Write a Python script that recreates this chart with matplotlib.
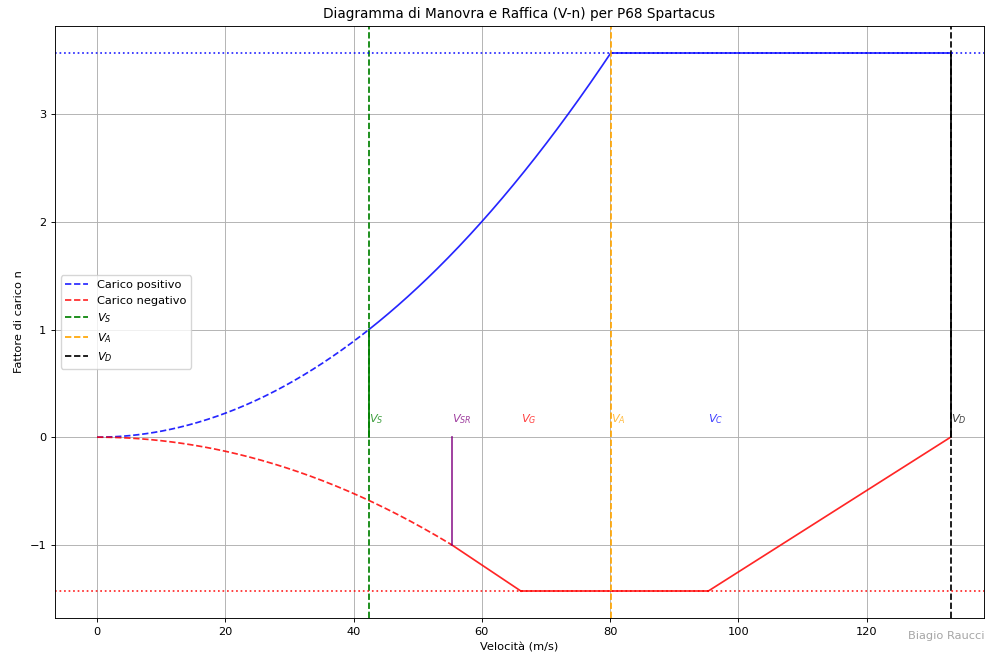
import numpy as np
from matplotlib import pyplot as plt

# velocita caratteristiche (m/s) e fattori di carico
VS = 42.4
VSR = 55.3
VG = 66.1
VA = 80.1
VC = 95.3
VD = 133.1
n_max = 3.57
n_min = -1.43

v_labels = ['$V_S$', '$V_{SR}$', '$V_G$', '$V_A$', '$V_C$', '$V_D$']
v_values = [VS, VSR, VG, VA, VC, VD]
v_colors = ['green', 'purple', 'red', 'orange', 'blue', 'black']

# curve
v1 = np.linspace(0, VS, 200)
n1 = (v1 / VS) ** 2
v2 = np.linspace(VS, VA, 200)
n2 = (v2 / VS) ** 2
v3 = np.linspace(0, VSR, 200)
n3 = -(v3 / VSR) ** 2

s = 0.82
plt.rcParams['font.size'] = 10 * s
plt.rcParams['lines.linewidth'] = 1.5 * s
plt.rcParams['grid.linewidth'] = 0.8 * s
plt.rcParams['axes.linewidth'] = 0.8 * s
plt.rcParams['xtick.major.width'] = 0.8 * s
plt.rcParams['ytick.major.width'] = 0.8 * s
plt.rcParams['xtick.major.size'] = 3.5 * s
plt.rcParams['ytick.major.size'] = 3.5 * s

fig = plt.figure(figsize=(9.85, 6.57), dpi=100)
ax = fig.add_axes([55/985, 1 - 618/657, 929/985, 592/657])

ax.plot(v1, n1, 'b--', alpha=0.85, label='Carico positivo')
ax.plot(v2, n2, 'b-', alpha=0.85)
ax.plot([VA, VD], [n_max, n_max], 'b-', alpha=0.85)

ax.plot(v3, n3, 'r--', alpha=0.85, label='Carico negativo')
ax.plot([VSR, VG], [-1, n_min], 'r-', alpha=0.85)
ax.plot([VG, VC], [n_min, n_min], 'r-', alpha=0.85)
ax.plot([VC, VD], [n_min, 0], 'r-', alpha=0.85)

ax.axvline(VS, color='green', linestyle='--', label='$V_S$')
ax.axvline(VA, color='orange', linestyle='--', label='$V_A$')
ax.axvline(VD, color='black', linestyle='--', label='$V_D$')

ax.plot([VS, VS], [0, 1], color='green')
ax.plot([VSR, VSR], [-1, 0], color='purple', alpha=0.85)
ax.plot([VD, VD], [0, n_max], color='black')

ax.axhline(n_max, color='blue', linestyle=':', alpha=0.85)
ax.axhline(n_min, color='red', linestyle=':', alpha=0.85)

for lab, v, c in zip(v_labels, v_values, v_colors):
    ax.text(v, 0.1, lab, color=c, alpha=0.75, fontsize=10 * s, ha='left', va='bottom')

ax.set_xlim(-6.55, 138.3)
ax.set_xlabel('Velocità (m/s)')
ax.set_ylabel('Fattore di carico n')
ax.set_title('Diagramma di Manovra e Raffica (V-n) per P68 Spartacus', fontsize=12 * s)
ax.grid(True)
ax.legend(loc='center left', bbox_to_anchor=(0, 0.5))

fig.text(0.999, 0.028, 'Biagio Raucci', color='gray', alpha=0.7, fontsize=10 * s, ha='right')

plt.savefig('out.png')
